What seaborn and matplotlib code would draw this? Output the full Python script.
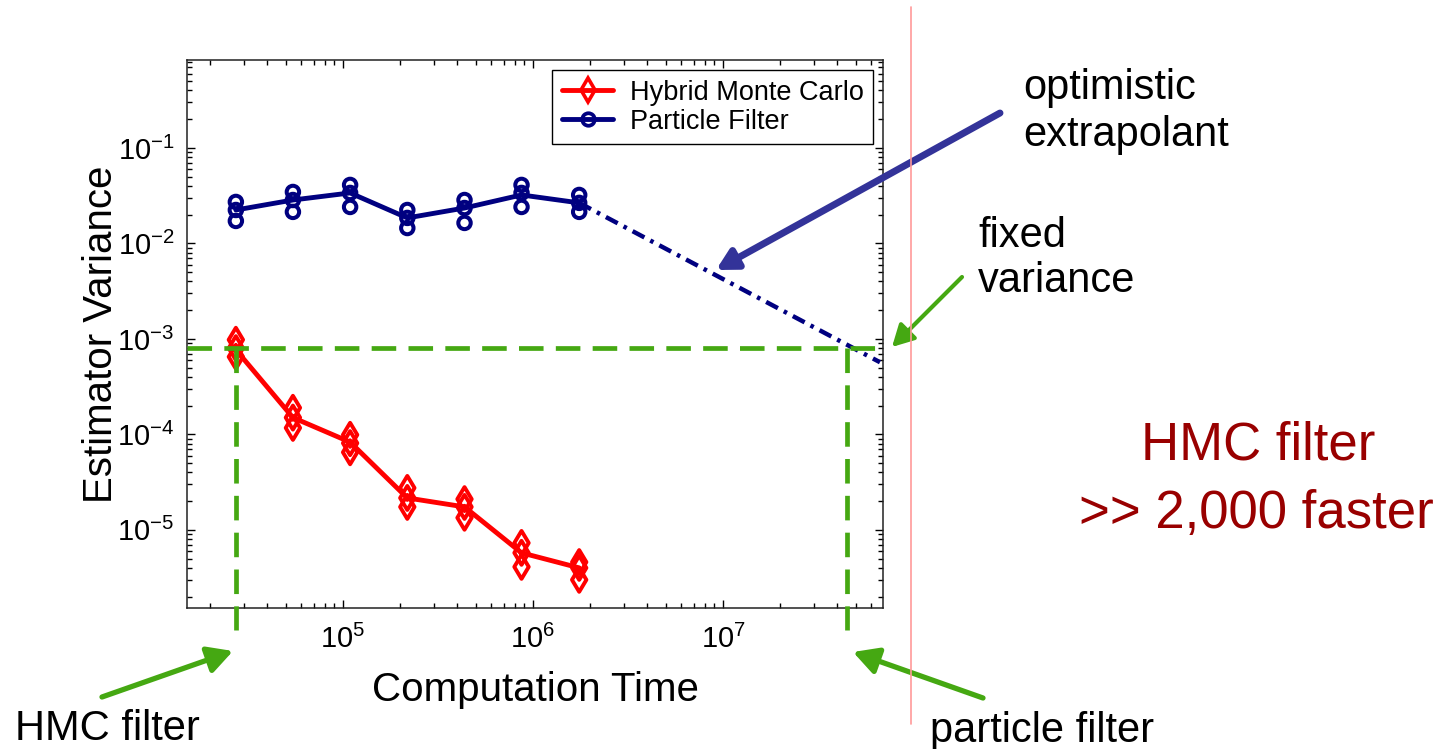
import numpy as np
import pandas as pd
import matplotlib
matplotlib.use("Agg")
import matplotlib.pyplot as plt
import seaborn as sns
from matplotlib.lines import Line2D

# ---------------- data ----------------
comp_time = [2.73e4, 5.45e4, 1.09e5, 2.18e5, 4.36e5, 8.7e5, 1.75e6]

hmc_run_hi = [9.8e-4, 1.9e-4, 9.9e-5, 2.75e-5, 2.1e-5, 7.3e-6, 4.6e-6]
hmc_run_mid = [8.0e-4, 1.5e-4, 8.1e-5, 2.16e-5, 1.74e-5, 5.75e-6, 4.0e-6]
hmc_run_lo = [6.5e-4, 1.17e-4, 6.5e-5, 1.74e-5, 1.34e-5, 4.1e-6, 3.0e-6]
hmc_mean = [7.7e-4, 1.5e-4, 8.3e-5, 2.16e-5, 1.74e-5, 5.75e-6, 4.0e-6]

pf_run_hi = [0.0272, 0.0346, 0.041, 0.0224, 0.0285, 0.041, 0.0322]
pf_run_mid = [0.0224, 0.0285, 0.0338, 0.0185, 0.0235, 0.0338, 0.0266]
pf_run_lo = [0.0172, 0.0214, 0.0241, 0.0145, 0.0164, 0.0241, 0.0214]
pf_mean = [0.0224, 0.0285, 0.0338, 0.0185, 0.0235, 0.0322, 0.0266]

extrap_time = [1.75e6, 6.7e7]
extrap_var = [0.0266, 5.7e-4]

fixed_variance = 8.0e-4
hmc_time_at_fixed = 2.73e4
pf_time_at_fixed = 4.5e7
guide_bottom = 9.0e-7

series_labels = ["Hybrid Monte Carlo", "Particle Filter"]
x_label = "Computation Time"
y_label = "Estimator Variance"

# ---------------- style ----------------
sns.set_style("ticks")
plt.rcParams["font.family"] = ["Liberation Sans", "DejaVu Sans"]
plt.rcParams["mathtext.default"] = "regular"
for k in ("text.color", "axes.labelcolor", "xtick.color", "ytick.color"):
    plt.rcParams[k] = "black"

W, H = 1446, 749
fig = plt.figure(figsize=(W / 100, H / 100), dpi=100)
fig.patch.set_facecolor("white")


def fx(px):
    return px / W


def fy(py):
    return 1 - py / H


ax = fig.add_axes([fx(187), fy(608), (883 - 187) / W, (608 - 60) / H])
ax.set_facecolor("white")

RED = "#FF0000"
NAVY = "#000080"
GREEN = "#45A812"
ARROW_BLUE = "#333399"
DARKRED = "#990000"

hmc_runs = pd.DataFrame({
    "time": comp_time * 3,
    "var": hmc_run_hi + hmc_run_mid + hmc_run_lo,
})
pf_runs = pd.DataFrame({
    "time": comp_time * 3,
    "var": pf_run_hi + pf_run_mid + pf_run_lo,
})

ax.set_xscale("log")
ax.set_yscale("log")

# mean lines
sns.lineplot(x=comp_time, y=hmc_mean, color=RED, lw=3.5, ax=ax, zorder=3)
sns.lineplot(x=comp_time, y=pf_mean, color=NAVY, lw=3.5, ax=ax, zorder=3)

# individual runs
sns.scatterplot(data=hmc_runs, x="time", y="var", marker="d", s=150,
                facecolor="none", edgecolor=RED, linewidth=2.8, ax=ax, zorder=4)
sns.scatterplot(data=pf_runs, x="time", y="var", marker="o", s=80,
                facecolor="none", edgecolor=NAVY, linewidth=2.9, ax=ax, zorder=4)

# optimistic extrapolant
sns.lineplot(x=extrap_time, y=extrap_var, color=NAVY, lw=3.2, ax=ax, zorder=3,
             dashes=False, linestyle=(0, (3.0, 1.5, 0.8, 1.5)))

# fixed-variance guides
ax.axhline(fixed_variance, color=GREEN, lw=3.4, linestyle=(0, (5.2, 2.6)), zorder=5)
for t in (hmc_time_at_fixed, pf_time_at_fixed):
    ln = Line2D([t, t], [fixed_variance, guide_bottom], color=GREEN, lw=3.4,
                linestyle=(0, (5.2, 2.6)), zorder=5, clip_on=False)
    ax.add_line(ln)

ax.set_xlim(1.51e4, 6.95e7)
ax.set_ylim(1.52e-6, 0.834)

ax.set_xlabel(x_label, fontsize=29, labelpad=12)
ax.set_ylabel(y_label, fontsize=29, labelpad=-2)

ax.tick_params(which="both", direction="in", top=True, right=True,
               colors="black", width=1.0)
ax.tick_params(which="major", length=6, labelsize=21, pad=12)
ax.tick_params(axis="y", which="major", pad=9)
ax.tick_params(which="minor", length=3.5)
for sp in ax.spines.values():
    sp.set_visible(True)
    sp.set_color("#222222")
    sp.set_linewidth(1.1)

handles = [
    Line2D([], [], color=RED, lw=3.5, marker="d", ms=12, mfc="none", mec=RED, mew=2.6),
    Line2D([], [], color=NAVY, lw=3.5, marker="o", ms=9, mfc="none", mec=NAVY, mew=2.7),
]
leg = ax.legend(handles, series_labels, loc="upper right", fontsize=19.5,
                frameon=True, fancybox=False, edgecolor="black", framealpha=1,
                handlelength=1.9, borderaxespad=0.37, borderpad=0.35,
                labelspacing=0.12, handletextpad=0.6)
leg.get_frame().set_linewidth(1.0)

# ---------------- slide annotations ----------------
fig.add_artist(Line2D([fx(911), fx(911)], [fy(7), fy(724)], color="#FF9999",
                      lw=1.2, transform=fig.transFigure))


def arrow(tail, tip, color, lw, scale):
    ax.annotate("", xy=(fx(tip[0]), fy(tip[1])), xytext=(fx(tail[0]), fy(tail[1])),
                xycoords="figure fraction", textcoords="figure fraction",
                annotation_clip=False,
                arrowprops=dict(arrowstyle="-|>,head_length=0.5,head_width=0.27",
                                color=color, lw=lw, mutation_scale=scale,
                                shrinkA=0, shrinkB=0))


arrow((1000, 113), (716, 270), ARROW_BLUE, 5.0, 24)
arrow((962, 277), (892, 347), GREEN, 3.0, 26)
arrow((102, 697), (233, 651), GREEN, 3.8, 30)
arrow((983, 698), (853, 652), GREEN, 3.8, 30)

txt = dict(fontsize=30, color="black", transform=fig.transFigure, va="baseline")
fig.text(fx(1023), fy(99), "optimistic", ha="left", **txt)
fig.text(fx(1023), fy(146), "extrapolant", ha="left", **txt)
fig.text(fx(978), fy(247), "fixed", ha="left", **txt)
fig.text(fx(978), fy(292), "variance", ha="left", **txt)
fig.text(fx(15), fy(740), "HMC filter", ha="left", **txt)
fig.text(fx(930), fy(742), "particle filter", ha="left", **txt)

fig.text(fx(1258), fy(460), "HMC filter", ha="center", va="baseline",
         fontsize=38, color=DARKRED)
fig.text(fx(1256), fy(528), ">> 2,000 faster", ha="center", va="baseline",
         fontsize=38, color=DARKRED)

fig.savefig("out.png", dpi=100, facecolor="white")
